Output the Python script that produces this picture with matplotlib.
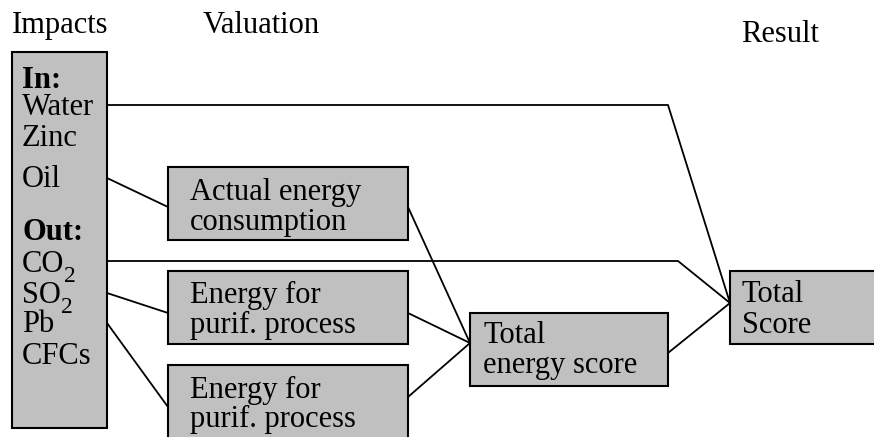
import matplotlib.pyplot as plt
from matplotlib.patches import Rectangle

plt.rcParams['font.family'] = ['Liberation Serif', 'DejaVu Serif']

# Column headers (text, x, baseline)
headers = [("Impacts", 12, 33), ("Valuation", 203, 33), ("Result", 741, 42)]

# Impacts list inside the left box (text, subscript, baseline, bold)
impact_items = [
    ("In:", "", 88, True),
    ("Water", "", 115, False),
    ("Zinc", "", 146, False),
    ("Oil", "", 187, False),
    ("Out:", "", 240, True),
    ("CO", "2", 272, False),
    ("SO", "2", 303, False),
    ("Pb", "", 332, False),
    ("CFCs", "", 364, False),
]

# Boxes: name -> (x0, y0, x1, y1)
boxes = {
    "impacts": (12, 52, 107, 428),
    "actual": (168, 167, 408, 240),
    "purif1": (168, 271, 408, 344),
    "purif2": (168, 365, 408, 450),
    "energy": (470, 313, 668, 386),
    "total": (730, 271, 880, 344),
}

# Box labels (box, lines, x, baselines)
box_labels = [
    ("actual", ["Actual energy", "consumption"], 190, [200, 230]),
    ("purif1", ["Energy for", "purif. process"], 190, [303, 333]),
    ("purif2", ["Energy for", "purif. process"], 190, [398, 427]),
    ("energy", ["Total", "energy score"], 483, [343, 373]),
    ("total", ["Total", "Score"], 742, [302, 333]),
]

# Connecting lines as polylines (x list, y list)
links = [
    ([107, 668, 730], [105, 105, 303]),   # Water -> Total Score
    ([107, 168], [178, 207]),             # Oil -> Actual energy
    ([107, 678, 730], [261, 261, 303]),   # CO2 -> Total Score
    ([107, 168], [293, 313]),             # SO2 -> purif 1
    ([107, 168], [323, 407]),             # Pb -> purif 2
    ([408, 470], [207, 343]),             # Actual -> Total energy
    ([408, 470], [313, 343]),             # purif 1 -> Total energy
    ([408, 470], [397, 343]),             # purif 2 -> Total energy
    ([668, 730], [353, 303]),             # Total energy -> Total Score
]

fig = plt.figure(figsize=(8.74, 4.37), dpi=100)
ax = fig.add_axes([0, 0, 1, 1])
ax.set_xlim(0, 874)
ax.set_ylim(437, 0)
ax.axis('off')

fs = 22

for xs, ys in links:
    ax.plot(xs, ys, color='black', lw=1.3, zorder=1)

for name, (x0, y0, x1, y1) in boxes.items():
    ax.add_patch(Rectangle((x0, y0), x1 - x0, y1 - y0, facecolor='#c0c0c0',
                           edgecolor='black', lw=1.5, zorder=2))

for text, x, y in headers:
    ax.text(x, y, text, fontsize=fs, va='baseline', ha='left')

renderer = fig.canvas.get_renderer()
for text, sub, y, bold in impact_items:
    t = ax.text(22, y, text, fontsize=fs, va='baseline', ha='left',
                fontweight='bold' if bold else 'normal', zorder=3)
    if sub:
        bb = t.get_window_extent(renderer=renderer)
        x_end = ax.transData.inverted().transform((bb.x1, 0))[0]
        ax.text(x_end, y + 10, sub, fontsize=17, va='baseline', ha='left', zorder=3)

for name, lines, x, ys in box_labels:
    for line, y in zip(lines, ys):
        ax.text(x, y, line, fontsize=fs, va='baseline', ha='left', zorder=3)

fig.savefig("out.png", dpi=100)
